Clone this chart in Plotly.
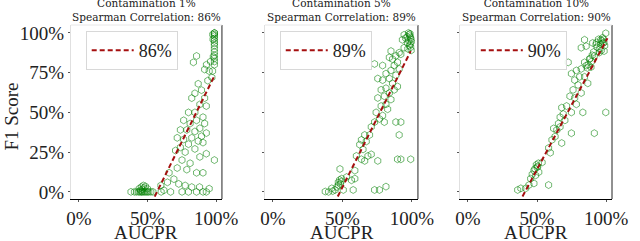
import plotly.graph_objects as go

# ---------------- data ----------------
panel_titles = ["Contamination 1%<br>Spearman Correlation: 86%",
                "Contamination 5%<br>Spearman Correlation: 89%",
                "Contamination 10%<br>Spearman Correlation: 90%"]
legend_labels = ["86%", "89%", "90%"]
y_tick_vals = [0, 25, 50, 75, 100]
y_tick_text = ["0%", "25%", "50%", "75%", "100%"]
x_tick_vals = [0, 50, 100]
x_tick_text = ["0%", "50%", "100%"]

# fitted regression lines: slope, x-intercept, x extent
fit_slope = [1.746, 1.743, 1.62]
fit_x_intercept = [57.0, 48.3, 41.3]
fit_x_start = [55.3, 46.6, 39.5]
fit_x_end = [98.6, 99.1, 101.0]

c1_x = [38, 40.5, 42, 43.5, 44.5, 45.5, 46, 47, 48, 49, 50, 51, 52.5, 54,
        44, 45.5, 46.5, 47.5, 48.5, 45, 50, 47,
        59.8, 60, 62, 64.6, 66.9, 69.3, 72.8, 75.2, 77.5, 79.9, 82.3, 85.8, 90.5, 92.9, 88, 95,
        87, 89.4, 84.6, 91.7, 82.3, 88.2, 92.9, 84.6, 79.9, 90.5, 76.4, 85.8, 81.1, 91.7,
        88.2, 78.7, 84.6, 74, 92.9, 89.4, 82.3, 76.4, 71.7, 87, 79.9, 90.5, 74, 84.6, 77.5,
        70.5, 88.2, 92.9, 98.8, 75.2, 81.1, 78.7, 71.7, 90.5, 85.8, 65.8,
        98.8, 98.8, 98.8, 98.8, 98.8, 98.8, 98.8, 98.8, 98.8, 98.8, 98.8, 98.8, 98.8, 98.8,
        97.6, 97.8, 93, 95, 91.7, 97.5, 96, 98, 94, 97, 83.5, 85.8]
c1_y = [0, 0, 0, 0, 0, 0, 0, 0, 0, 0, 0, 0, 0, 0,
        2, 3, 1.5, 2.5, 3.5, 1, 2, 4,
        4, 0, 1, 6, 0, 8, 5, 0, 4, 0, 3, 0, 0, 0, 3, 2,
        68, 64, 62, 59, 59, 55, 54, 50, 50, 47, 45, 45, 43, 43,
        40, 39, 38, 39, 37, 35, 34, 33, 34, 32, 30, 31, 28, 27, 25,
        26, 22, 24, 20, 20, 18, 14, 15, 12, 12, 12,
        80, 82, 84, 86, 88, 90, 92, 93.5, 95, 96.5, 98, 99, 100, 100,
        99, 96, 80, 76, 77, 76, 82, 85, 70, 72, 81.5, 85.5]

c2_x = [95.5, 93.1, 96.7, 94.3, 90.8, 88.4, 92, 86, 83.7, 89.6, 87.2, 90.8, 84.9, 81.3,
        88.4, 83.7, 78.9, 75.4, 86, 81.3, 89.6, 77.8, 83.7, 87.2, 80.1, 75.4, 84.9, 81.3,
        77.8, 74.2, 82.5, 78.9, 76.6, 73.1, 80.1, 88.4, 92, 90.8, 70.7, 69.5, 66, 63.6,
        67.1, 62.4, 64.8, 68.3, 70.7, 63.6, 66, 60, 75.4, 89.6, 92, 99.1, 58.9, 56.5,
        53, 48.2, 49.4, 47.1, 44.7, 42.3, 37.6, 50.6, 57.7, 73.1, 76.6, 81.3, 78.9, 73.1,
        84.9, 94.3, 58.9, 47, 48, 49, 48.5, 46, 40, 43,
        97.5, 98, 98.5, 99, 99.3, 99.5, 98.8, 98.2, 97.8, 99.1, 99.4, 96.5, 97, 98.6]
c2_y = [96.7, 95.7, 93.7, 90.7, 87.6, 85.6, 86.6, 83.5, 84.6, 81.5, 79.5, 77.4, 76.4, 74.4,
        73.4, 71.3, 70.3, 71.3, 68.3, 65.2, 66.3, 64.2, 62.2, 64.2, 60.2, 59.1, 58.1, 55.1,
        54, 50, 52, 48, 45.9, 43.9, 43.9, 43.9, 43.9, 35.8, 40.9, 35.8, 35.8, 32.7,
        31.7, 29.7, 26.7, 22.6, 23.6, 20.5, 19.5, 22.6, 19.5, 20.5, 20.5, 20.5, 8.3, 7.3,
        9.3, 14.4, 8.3, 4.3, 1.2, 2.2, 0.2, 1.2, 1.2, 1.2, 1.2, 3.3, 79.5, 80.5,
        88.6, 98.8, 13.4, 6, 7.5, 6.5, 5, 3, 0, 0.5,
        100, 99, 98, 97, 96, 94.5, 93, 92, 95, 91, 89, 97.5, 90, 99.5]

c3_x = [84.4, 82, 85.6, 90.3, 92.7, 96.2, 98.6, 99.8, 95, 91.5, 88, 84.4, 85.6, 89.1,
        82, 78.5, 72.6, 74.9, 80.9, 77.3, 84.4, 86.8, 79.7, 76.1, 82, 77.3, 73.8, 78.5,
        71.4, 74.9, 67.9, 69, 66.7, 83.2, 99.8, 70.2, 65.5, 64.3, 62, 66.7, 74.9, 91.5,
        63.1, 60.8, 67.9, 58.4, 59.6, 53.7, 50.1, 47.8, 51.3, 49, 45.4, 44.2, 47.8, 41.8,
        38.3, 36, 58.4, 49.5, 50.5, 48.5, 51, 46.5,
        93, 94.5, 96, 97, 97.5, 98, 98.5, 99, 95.5, 93.5, 96.5, 97.8, 90, 91, 88.5, 87, 89.5, 86.5]
c3_y = [95.7, 90.7, 91.7, 93.7, 92.7, 95.7, 88.6, 99.8, 87.6, 85.6, 83.5, 81.5, 79.5, 78.5,
        77.4, 76.4, 81.5, 74.4, 72.4, 70.3, 72.4, 68.3, 67.3, 64.2, 62.2, 59.1, 60.2, 55.1,
        54, 50, 53, 49, 47, 50, 50, 45, 43, 38.9, 39.9, 40.9, 36.9, 36.9,
        34.8, 32.7, 30.7, 27.6, 24.6, 18.5, 15.4, 13.4, 12.4, 10.4, 8.3, 4.3, 5.3, 2.2,
        2.2, 1.2, 4.3, 17, 16, 14.5, 18, 11,
        94, 96, 93, 95, 97, 96, 94, 92, 90, 91, 89, 93.5, 86, 88, 84, 80, 82, 78]

scatter_x = [c1_x, c2_x, c3_x]
scatter_y = [c1_y, c2_y, c3_y]

# ---------------- layout constants ----------------
domains = [[0.0, 0.279], [0.3587, 0.6413], [0.7192, 1.0]]
MARKER = "rgba(0,128,0,0.55)"
FITC = "#a50f0f"
SERIF = "Liberation Serif"

fig = go.Figure()
for i in range(3):
    sfx = "" if i == 0 else str(i + 1)
    fig.add_trace(go.Scatter(
        x=scatter_x[i], y=scatter_y[i], mode="markers",
        marker=dict(symbol="hexagon-open", size=7, color=MARKER, line=dict(width=1)),
        xaxis="x" + sfx, yaxis="y" + sfx, showlegend=False, hoverinfo="skip"))
    xs = [fit_x_start[i], fit_x_end[i]]
    ys = [fit_slope[i] * (v - fit_x_intercept[i]) for v in xs]
    fig.add_trace(go.Scatter(
        x=xs, y=ys, mode="lines", name=legend_labels[i],
        line=dict(color=FITC, width=2, dash="5px,3px"),
        xaxis="x" + sfx, yaxis="y" + sfx, legend="legend" + sfx, showlegend=True))

layout = dict(
    width=640, height=241,
    margin=dict(l=71, r=17, t=25, b=37),
    paper_bgcolor="white", plot_bgcolor="white",
    font=dict(family=SERIF, size=19, color="#222"),
)
for i in range(3):
    sfx = "" if i == 0 else str(i + 1)
    layout["xaxis" + sfx] = dict(
        domain=domains[i], anchor="y" + sfx, range=[-5.7, 104.3],
        tickvals=x_tick_vals, ticktext=x_tick_text,
        showgrid=False, zeroline=False, showline=True, linecolor="black", linewidth=1,
        ticks="outside", ticklen=2, tickcolor="#555",
        tickfont=dict(family=SERIF, size=19, color="#222"))
    layout["yaxis" + sfx] = dict(
        anchor="x" + sfx, range=[-4.5, 105], domain=[0, 1],
        tickvals=y_tick_vals, ticktext=y_tick_text, showticklabels=(i == 0),
        showgrid=False, zeroline=False, showline=True, linecolor="#e0e0e0", linewidth=1,
        ticks="outside", ticklen=2, tickcolor="#555",
        tickfont=dict(family=SERIF, size=19, color="#222"))
    lx = domains[i][0] + 15 / 552
    layout["legend" + sfx] = dict(
        x=lx, y=0.965, xanchor="left", yanchor="top", itemwidth=42,
        bgcolor="rgba(255,255,255,0.85)", bordercolor="#d8d8d8", borderwidth=1,
        font=dict(family=SERIF, size=18, color="#222"))
fig.update_layout(**layout)

shapes = []
annotations = []
for i in range(3):
    sfx = "" if i == 0 else str(i + 1)
    shapes.append(dict(type="line", xref="x" + sfx + " domain", yref="y" + sfx + " domain",
                       x0=1, x1=1, y0=0, y1=1, line=dict(color="#222", width=1)))
    shapes.append(dict(type="line", xref="x" + sfx + " domain", yref="y" + sfx + " domain",
                       x0=0, x1=1, y0=1, y1=1, line=dict(color="#e8e8e8", width=1)))
    cx = (domains[i][0] + domains[i][1]) / 2
    annotations.append(dict(text=panel_titles[i], x=cx, y=1, xref="paper", yref="paper",
                            xanchor="center", yanchor="bottom", showarrow=False,
                            font=dict(family="DejaVu Serif", size=10.5, color="#222")))
    annotations.append(dict(text="AUCPR", x=cx, y=-0.195, xref="paper", yref="paper",
                            xanchor="center", yanchor="middle", showarrow=False,
                            font=dict(family=SERIF, size=19, color="#222")))
annotations.append(dict(text="F1 Score", x=-0.1105, y=0.475, xref="paper", yref="paper",
                        xanchor="center", yanchor="middle", textangle=-90, showarrow=False,
                        font=dict(family=SERIF, size=19, color="#222")))
fig.update_layout(shapes=shapes, annotations=annotations)

fig.write_html("out.html", config={"displayModeBar": False},
               post_script="document.body.style.margin='0';document.body.style.overflow='hidden';")
